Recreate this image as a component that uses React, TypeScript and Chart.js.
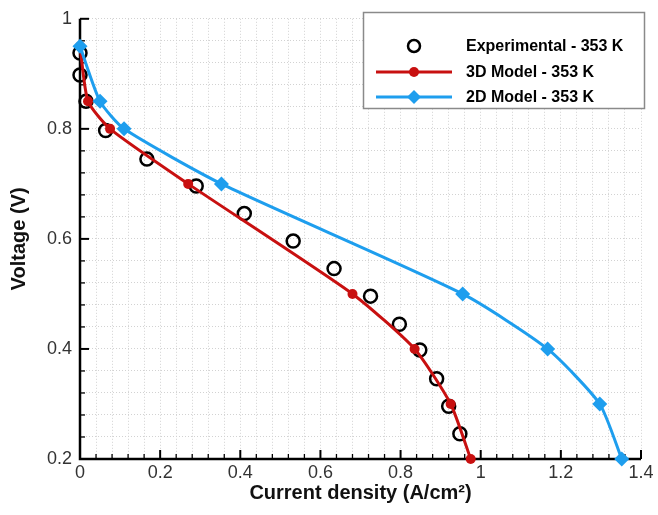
import React, { useEffect, useRef } from "react";
import { Chart, registerables } from "chart.js";

Chart.register(...registerables);

// ---- data ----
const expCurrent = [0.0, 0.0, 0.015, 0.064, 0.167, 0.29, 0.41, 0.532, 0.634, 0.725, 0.797, 0.848, 0.89, 0.92, 0.948];
const expVoltage = [0.938, 0.898, 0.85, 0.797, 0.745, 0.696, 0.646, 0.596, 0.546, 0.496, 0.445, 0.398, 0.346, 0.296, 0.246];

const model3dCurrent = [0.0, 0.02, 0.075, 0.27, 0.68, 0.835, 0.925, 0.975];
const model3dVoltage = [0.95, 0.85, 0.8, 0.7, 0.5, 0.4, 0.3, 0.2];

const model2dCurrent = [0.0, 0.05, 0.11, 0.353, 0.955, 1.167, 1.297, 1.352];
const model2dVoltage = [0.95, 0.85, 0.8, 0.7, 0.5, 0.4, 0.3, 0.2];

const seriesNames = ["Experimental - 353 K", "3D Model - 353 K", "2D Model - 353 K"];

const xMin = 0, xMax = 1.4, xMajor = 0.2, xMinor = 0.04;
const yMin = 0.2, yMax = 1.0, yMajor = 0.2, yMinor = 0.04;

const xTitle = "Current density (A/cm²)";
const yTitle = "Voltage (V)";

const RED = "#c81010";
const BLUE = "#1e9eee";
const FONT = "'Liberation Sans', Arial, Helvetica, sans-serif";

const isMajor = (v: number, step: number) => Math.abs(v / step - Math.round(v / step)) < 1e-6;
const fmt = (v: number) => String(Math.round(v * 10) / 10);

const zip = (xs: number[], ys: number[]) => xs.map((x, i) => ({ x, y: ys[i] }));

const decorPlugin = {
  id: "decor",
  beforeDatasetsDraw(chart: any) {
    const { ctx, chartArea, scales } = chart;
    const { left, right, top, bottom } = chartArea;
    const x = scales.x, y = scales.y;
    ctx.save();
    ctx.strokeStyle = "#000";
    const nx = Math.round((xMax - xMin) / xMinor);
    for (let i = 0; i <= nx; i++) {
      const v = xMin + i * xMinor;
      const px = x.getPixelForValue(v);
      const major = isMajor(v, xMajor);
      ctx.lineWidth = major ? 2 : 1.3;
      ctx.beginPath();
      ctx.moveTo(px, bottom);
      ctx.lineTo(px, bottom - (major ? 9 : 5));
      ctx.stroke();
    }
    const ny = Math.round((yMax - yMin) / yMinor);
    for (let i = 0; i <= ny; i++) {
      const v = yMin + i * yMinor;
      const py = y.getPixelForValue(v);
      const major = isMajor(v, yMajor);
      ctx.lineWidth = major ? 2 : 1.3;
      ctx.beginPath();
      ctx.moveTo(left, py);
      ctx.lineTo(left + (major ? 9 : 5), py);
      ctx.stroke();
    }
    ctx.lineWidth = 2.5;
    ctx.beginPath();
    ctx.moveTo(left, top);
    ctx.lineTo(left, bottom);
    ctx.lineTo(right, bottom);
    ctx.stroke();

    ctx.fillStyle = "#111";
    ctx.font = `bold 20px ${FONT}`;
    ctx.textAlign = "center";
    ctx.textBaseline = "middle";
    ctx.fillText(xTitle, (left + right) / 2, 493);
    ctx.save();
    ctx.translate(19, (top + bottom) / 2);
    ctx.rotate(-Math.PI / 2);
    ctx.fillText(yTitle, 0, 0);
    ctx.restore();
    ctx.restore();
  },
  afterDraw(chart: any) {
    const { ctx } = chart;
    ctx.save();
    ctx.fillStyle = "#fff";
    ctx.fillRect(363, 12, 282, 97);
    ctx.strokeStyle = "#8a8a8a";
    ctx.lineWidth = 1.5;
    ctx.strokeRect(363.5, 12.5, 281, 96);
    const rows = [46, 72, 97];
    ctx.strokeStyle = "#000";
    ctx.lineWidth = 2.5;
    ctx.beginPath();
    ctx.arc(414, rows[0], 6, 0, Math.PI * 2);
    ctx.stroke();
    ctx.strokeStyle = RED;
    ctx.lineWidth = 3;
    ctx.beginPath();
    ctx.moveTo(376, rows[1]);
    ctx.lineTo(452, rows[1]);
    ctx.stroke();
    ctx.fillStyle = RED;
    ctx.beginPath();
    ctx.arc(414, rows[1], 5, 0, Math.PI * 2);
    ctx.fill();
    ctx.strokeStyle = BLUE;
    ctx.beginPath();
    ctx.moveTo(376, rows[2]);
    ctx.lineTo(452, rows[2]);
    ctx.stroke();
    ctx.fillStyle = BLUE;
    ctx.beginPath();
    ctx.moveTo(414, rows[2] - 7);
    ctx.lineTo(421, rows[2]);
    ctx.lineTo(414, rows[2] + 7);
    ctx.lineTo(407, rows[2]);
    ctx.closePath();
    ctx.fill();
    ctx.fillStyle = "#000";
    ctx.font = `bold 16px ${FONT}`;
    ctx.textAlign = "left";
    ctx.textBaseline = "middle";
    seriesNames.forEach((n, i) => ctx.fillText(n, 466, rows[i] + 1));
    ctx.restore();
  },
};

export default function App() {
  const ref = useRef<HTMLCanvasElement>(null);
  useEffect(() => {
    if (!ref.current) return;
    const chart = new Chart(ref.current, {
      type: "scatter",
      data: {
        datasets: [
          {
            label: seriesNames[2],
            data: zip(model2dCurrent, model2dVoltage),
            showLine: true,
            borderColor: BLUE,
            backgroundColor: BLUE,
            borderWidth: 3,
            pointStyle: "rectRot",
            pointRadius: 7.5,
            pointBorderWidth: 0,
            tension: 0.2,
            clip: false,
            order: 0,
          },
          {
            label: seriesNames[1],
            data: zip(model3dCurrent, model3dVoltage),
            showLine: true,
            borderColor: RED,
            backgroundColor: RED,
            borderWidth: 3,
            pointStyle: "circle",
            pointRadius: 5,
            pointBorderWidth: 0,
            tension: 0.2,
            clip: false,
            order: 1,
          },
          {
            label: seriesNames[0],
            data: zip(expCurrent, expVoltage),
            showLine: false,
            borderColor: "#000",
            backgroundColor: "rgba(0,0,0,0)",
            pointStyle: "circle",
            pointRadius: 6.5,
            pointBorderWidth: 2.5,
            clip: false,
            order: 2,
          },
        ],
      },
      options: {
        animation: false,
        responsive: false,
        events: [],
        layout: { padding: { top: 11, right: 17, left: 0, bottom: 0 } },
        plugins: { legend: { display: false }, tooltip: { enabled: false } },
        scales: {
          x: {
            type: "linear",
            min: xMin,
            max: xMax,
            afterFit: (s: any) => { s.height = 56; },
            grid: { color: "#d2d2d2", lineWidth: 1, drawTicks: false },
            border: { display: false, dash: [1, 2] },
            ticks: {
              stepSize: xMinor,
              autoSkip: false,
              maxRotation: 0,
              padding: 3,
              color: "#333",
              font: { family: FONT, size: 18 },
              callback: (v: any) => (isMajor(Number(v), xMajor) ? fmt(Number(v)) : ""),
            },
          },
          y: {
            type: "linear",
            min: yMin,
            max: yMax,
            afterFit: (s: any) => { s.width = 80; },
            grid: { color: "#d2d2d2", lineWidth: 1, drawTicks: false },
            border: { display: false, dash: [1, 2] },
            ticks: {
              stepSize: yMinor,
              autoSkip: false,
              padding: 8,
              color: "#333",
              font: { family: FONT, size: 18 },
              callback: (v: any) => (isMajor(Number(v), yMajor) ? fmt(Number(v)) : ""),
            },
          },
        },
      },
      plugins: [decorPlugin],
    } as any);
    return () => chart.destroy();
  }, []);
  return (
    <div style={{ position: "fixed", left: 0, top: 0, width: 658, height: 515, background: "#fff" }}>
      <canvas ref={ref} width={658} height={515} />
    </div>
  );
}
